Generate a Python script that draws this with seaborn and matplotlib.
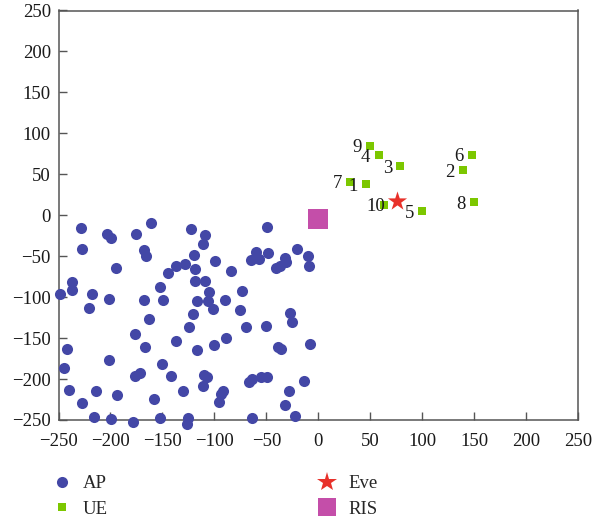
import matplotlib
matplotlib.use("Agg")
import matplotlib.pyplot as plt
from matplotlib.lines import Line2D
import seaborn as sns
import pandas as pd

# ---------------- data ----------------
ap_x = [-228, -203, -199, -175, -161, -227, -168, -166, -195, -237, -237, -249, -218, -201,
        -221, -168, -149, -152, -145, -137, -128, -163, -137, -176, -167, -242, -245, -201,
        -150, -142, -176, -172, -240, -214, -194, -227, -158, -130, -216, -199, -178, -152,
        -122, -109, -111, -49, -120, -119, -99, -84, -60, -65, -57, -48, -32, -31, -41, -37,
        -20, -10, -9, -119, -109, -105, -106, -101, -117, -121, -90, -73, -75, -124, -70,
        -50, -27, -25, -117, -100, -89, -39, -36, -8, -110, -107, -111, -92, -94, -96, -67,
        -64, -55, -49, -14, -28, -32, -22, -64, -125, -126]
ap_y = [-15, -23, -28, -23, -10, -41, -42, -50, -65, -82, -91, -96, -96, -102,
        -113, -104, -103, -88, -71, -62, -60, -127, -154, -145, -161, -163, -187, -177,
        -182, -196, -196, -193, -213, -215, -219, -229, -224, -215, -246, -249, -253, -248,
        -17, -24, -35, -14, -48, -66, -56, -68, -45, -55, -54, -46, -52, -57, -64, -62,
        -41, -50, -62, -80, -80, -94, -105, -115, -105, -120, -104, -92, -116, -137, -136,
        -135, -119, -130, -164, -159, -150, -161, -163, -157, -195, -198, -208, -215, -218, -228, -203,
        -200, -197, -198, -202, -215, -232, -245, -248, -248, -255]

ue_x = [46, 139, 79, 58, 100, 148, 31, 150, 50, 63]
ue_y = [38, 55, 60, 73, 5, 74, 41, 16, 85, 13]
ue_labels = ["1", "2", "3", "4", "5", "6", "7", "8", "9", "10"]

eve_x = [76]
eve_y = [17]

ris_x = [0]
ris_y = [-5]

legend_labels = ["AP", "UE", "Eve", "RIS"]
x_ticks = [-250, -200, -150, -100, -50, 0, 50, 100, 150, 200, 250]
y_ticks = [-250, -200, -150, -100, -50, 0, 50, 100, 150, 200, 250]

# ---------------- style ----------------
sns.set_style("ticks")
plt.rcParams["font.family"] = ["Liberation Serif", "DejaVu Serif"]
plt.rcParams["axes.unicode_minus"] = True

c_ap = "#4347a6"
c_ue = "#7cc700"
c_eve = "#e8312a"
c_ris = "#c44ea9"
c_axis = "#555555"

W, H = 595, 521
fig = plt.figure(figsize=(W / 100, H / 100), dpi=100)
left, right, top, bottom = 58.5, 578, 10.5, 420
ax = fig.add_axes([left / W, 1 - bottom / H, (right - left) / W, (bottom - top) / H])

df_ap = pd.DataFrame({"x": ap_x, "y": ap_y})
df_ue = pd.DataFrame({"x": ue_x, "y": ue_y, "label": ue_labels})
df_eve = pd.DataFrame({"x": eve_x, "y": eve_y})
df_ris = pd.DataFrame({"x": ris_x, "y": ris_y})

kw = dict(ax=ax, linewidth=0, legend=False, clip_on=False)
sns.scatterplot(data=df_ap, x="x", y="y", color=c_ap, marker="o", s=64, zorder=3, **kw)
sns.scatterplot(data=df_ris, x="x", y="y", color=c_ris, marker="s", s=210, zorder=3, **kw)
sns.scatterplot(data=df_ue, x="x", y="y", color=c_ue, marker="s", s=38, zorder=4, **kw)
sns.scatterplot(data=df_eve, x="x", y="y", color=c_eve, marker="*", s=210, zorder=5, **kw)

for _, r in df_ue.iterrows():
    ax.annotate(r["label"], (r["x"], r["y"]), xytext=(-12.6, 0), textcoords="offset points",
                ha="left", va="center_baseline", fontsize=13.5, color="#1a1a1a", zorder=6)

ax.set_xlim(-250, 250)
ax.set_ylim(-250, 250)
ax.set_xticks(x_ticks)
ax.set_yticks(y_ticks)
ax.set_xlabel("")
ax.set_ylabel("")
ax.tick_params(axis="both", direction="in", length=6, width=1.0, color=c_axis,
               labelsize=13.5, labelcolor="#1a1a1a")
ax.tick_params(axis="x", pad=9.5)
ax.tick_params(axis="y", pad=5.5)
for sp in ax.spines.values():
    sp.set_visible(True)
    sp.set_color(c_axis)
    sp.set_linewidth(1.1)

handles = [
    Line2D([], [], ls="", marker="o", color=c_ap, markersize=8, markeredgewidth=0),
    Line2D([], [], ls="", marker="s", color=c_ue, markersize=5.5, markeredgewidth=0),
    Line2D([], [], ls="", marker="*", color=c_eve, markersize=15, markeredgewidth=0),
    Line2D([], [], ls="", marker="s", color=c_ris, markersize=12.5, markeredgewidth=0),
]
fig.legend(handles, legend_labels, ncol=2, loc="upper left",
           bbox_to_anchor=(52.6 / W, 1 - 475 / H), frameon=False,
           fontsize=13.5, handlelength=1.0, handletextpad=0.62,
           columnspacing=11.2, labelspacing=0.45, borderpad=0, borderaxespad=0)

fig.savefig("out.png", dpi=100)
